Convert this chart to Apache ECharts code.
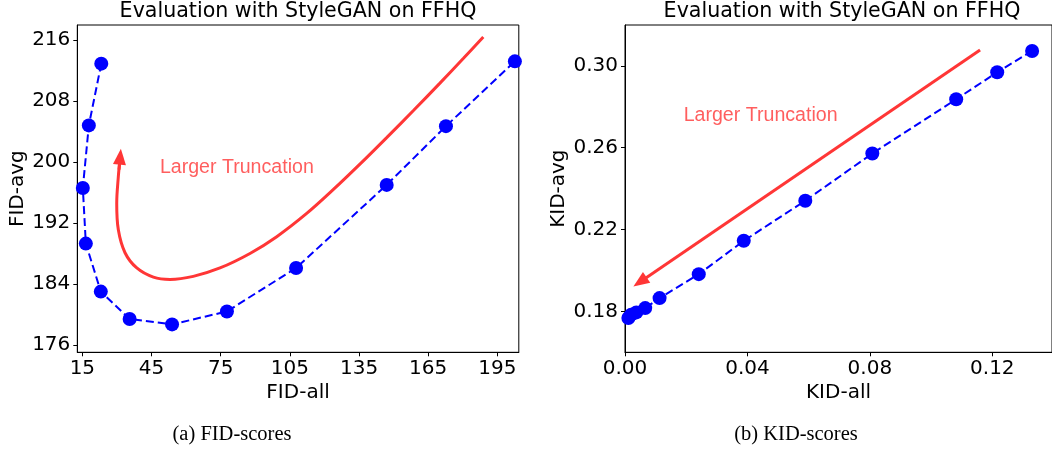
<!DOCTYPE html>
<html>
<head>
<meta charset="utf-8">
<script src="https://cdn.jsdelivr.net/npm/echarts@6/dist/echarts.min.js"></script>
<style>
  html, body { margin: 0; padding: 0; background: #ffffff; }
  #chart { width: 1052px; height: 449px; }
</style>
</head>
<body>
<div id="chart"></div>
<script>
// ---------- data ----------
const chartTitle = 'Evaluation with StyleGAN on FFHQ';
const captions = ['(a) FID-scores', '(b) KID-scores'];
const annotationText = 'Larger Truncation';

const fidAll = [23.2, 17.8, 15.2, 16.5, 23.0, 35.5, 53.9, 77.7, 107.7, 147.0, 172.7, 202.6];
const fidAvg = [212.9, 204.8, 196.6, 189.3, 183.0, 179.4, 178.7, 180.4, 186.1, 197.0, 204.7, 213.2];

const kidAll = [0.1330, 0.1216, 0.1082, 0.0808, 0.0589, 0.0388, 0.0241, 0.0113, 0.0066, 0.0037, 0.0020, 0.0011];
const kidAvg = [0.3073, 0.2969, 0.2837, 0.2572, 0.2341, 0.2145, 0.1982, 0.1865, 0.1816, 0.1795, 0.1784, 0.1768];

const fidXTicks = [15, 45, 75, 105, 135, 165, 195];
const fidYTicks = [176, 184, 192, 200, 208, 216];
const kidXTicks = [0.00, 0.04, 0.08, 0.12];
const kidYTicks = [0.18, 0.22, 0.26, 0.30];

// red annotation curve (FID plot), in data units
const fidCurveX = [31.2, 30.6, 29.9, 30.6, 33.5, 38.6, 45.8, 53.0, 63.1, 74.7, 87.7, 99.3, 112.3, 123.9, 135.5, 147.0, 158.6, 170.1, 180.3, 188.9];
const fidCurveY = [200.0, 198.1, 194.6, 191.1, 188.1, 186.1, 184.9, 184.6, 185.0, 186.1, 188.0, 190.2, 193.25, 196.4, 199.75, 203.2, 206.75, 210.35, 213.6, 216.4];
const fidArrowFrom = [30.9, 199.0];
const fidArrowHead = [31.4, 200.7];
const fidTextPos = [82.0, 199.3];

// red annotation arrow (KID plot), in data units
const kidArrowFrom = [0.116, 0.3078];
const kidArrowHead = [0.0049, 0.1944];
const kidTextPos = [0.0443, 0.2758];

// ---------- chart ----------
const BLUE = '#0000ff';
const RED = '#ff3636';
const TICK_FONT = 'DejaVu Sans';

const zip = (a, b) => a.map((v, i) => [v, b[i]]);

function makeX(gridIndex, min, max, ticks, name, fmt) {
  return {
    type: 'value', gridIndex, min, max,
    name, nameLocation: 'middle', nameGap: 30,
    nameTextStyle: { fontFamily: TICK_FONT, fontSize: 20, color: '#000' },
    axisLine: { show: true, onZero: false, lineStyle: { color: '#000', width: 1 } },
    axisTick: { show: true, length: 4, lineStyle: { color: '#000', width: 1 }, customValues: ticks },
    axisLabel: { show: true, margin: 6, fontFamily: TICK_FONT, fontSize: 20, color: '#000', customValues: ticks, formatter: fmt },
    splitLine: { show: false }
  };
}
function makeY(gridIndex, min, max, ticks, name, fmt, gap) {
  return {
    type: 'value', gridIndex, min, max,
    name, nameLocation: 'middle', nameGap: gap, nameRotate: 90,
    nameTextStyle: { fontFamily: TICK_FONT, fontSize: 20, color: '#000' },
    axisLine: { show: true, onZero: false, lineStyle: { color: '#000', width: 1 } },
    axisTick: { show: true, length: 4, lineStyle: { color: '#000', width: 1 }, customValues: ticks },
    axisLabel: { show: true, margin: 7, fontFamily: TICK_FONT, fontSize: 20, color: '#000', customValues: ticks, formatter: fmt },
    splitLine: { show: false }
  };
}

const chart = echarts.init(document.getElementById('chart'), null, { renderer: 'canvas' });

const option = {
  backgroundColor: '#ffffff',
  animation: false,
  grid: [
    { left: 77.3, top: 25, width: 441.5, height: 327.3, show: true, borderColor: '#000', borderWidth: 1, backgroundColor: 'transparent' },
    { left: 625, top: 25, width: 433, height: 327.3, show: true, borderColor: '#000', borderWidth: 1, backgroundColor: 'transparent' }
  ],
  xAxis: [
    makeX(0, 12.8, 204.3, fidXTicks, 'FID-all', v => String(Math.round(v))),
    makeX(1, 0, 0.1395, kidXTicks, 'KID-all', v => v.toFixed(2))
  ],
  yAxis: [
    makeY(0, 175.04, 217.97, fidYTicks, 'FID-avg', v => String(Math.round(v)), 50),
    makeY(1, 0.16, 0.32, kidYTicks, 'KID-avg', v => v.toFixed(2), 56.7)
  ],
  graphic: [
    { type: 'text', x: 298, y: 12, style: { text: chartTitle, align: 'center', verticalAlign: 'middle', fontFamily: 'DejaVu Sans', fontSize: 20.6, fill: '#000' } },
    { type: 'text', x: 842, y: 12, style: { text: chartTitle, align: 'center', verticalAlign: 'middle', fontFamily: 'DejaVu Sans', fontSize: 20.6, fill: '#000' } },
    { type: 'text', x: 232, y: 435, style: { text: captions[0], align: 'center', verticalAlign: 'middle', fontFamily: 'Liberation Serif', fontSize: 20.5, fill: '#000' } },
    { type: 'text', x: 796, y: 435, style: { text: captions[1], align: 'center', verticalAlign: 'middle', fontFamily: 'Liberation Serif', fontSize: 20.5, fill: '#000' } }
  ],
  series: [
    {
      type: 'line', xAxisIndex: 0, yAxisIndex: 0,
      data: zip(fidCurveX, fidCurveY),
      smooth: 0.35, showSymbol: false, symbol: 'none', silent: true, z: 3,
      lineStyle: { color: RED, width: 3 },
      markLine: {
        silent: true, animation: false,
        symbol: ['none', 'triangle'], symbolSize: [13, 16],
        lineStyle: { color: RED, width: 3, type: 'solid' },
        itemStyle: { color: RED },
        label: { show: false },
        data: [[{ coord: fidArrowFrom }, { coord: fidArrowHead }]]
      }
    },
    {
      type: 'scatter', xAxisIndex: 0, yAxisIndex: 0,
      data: [fidTextPos], symbolSize: 0, silent: true,
      label: { show: true, position: 'inside', formatter: annotationText, fontFamily: 'Liberation Sans', fontSize: 19.6, color: RED }
    },
    {
      type: 'line', xAxisIndex: 0, yAxisIndex: 0,
      data: zip(fidAll, fidAvg),
      symbol: 'circle', symbolSize: 14, showSymbol: true, z: 5,
      itemStyle: { color: BLUE },
      lineStyle: { color: BLUE, width: 2, type: [8, 4] }
    },
    {
      type: 'line', xAxisIndex: 1, yAxisIndex: 1,
      data: [], silent: true,
      markLine: {
        silent: true, animation: false,
        symbol: ['none', 'triangle'], symbolSize: [13, 16],
        lineStyle: { color: RED, width: 3, type: 'solid' },
        itemStyle: { color: RED },
        label: { show: false },
        data: [[{ coord: kidArrowFrom }, { coord: kidArrowHead }]]
      }
    },
    {
      type: 'scatter', xAxisIndex: 1, yAxisIndex: 1,
      data: [kidTextPos], symbolSize: 0, silent: true,
      label: { show: true, position: 'inside', formatter: annotationText, fontFamily: 'Liberation Sans', fontSize: 19.6, color: RED }
    },
    {
      type: 'line', xAxisIndex: 1, yAxisIndex: 1,
      data: zip(kidAll, kidAvg),
      symbol: 'circle', symbolSize: 14, showSymbol: true, z: 5,
      itemStyle: { color: BLUE },
      lineStyle: { color: BLUE, width: 2, type: [8, 4] }
    }
  ]
};
chart.setOption(option);
</script>
</body>
</html>
